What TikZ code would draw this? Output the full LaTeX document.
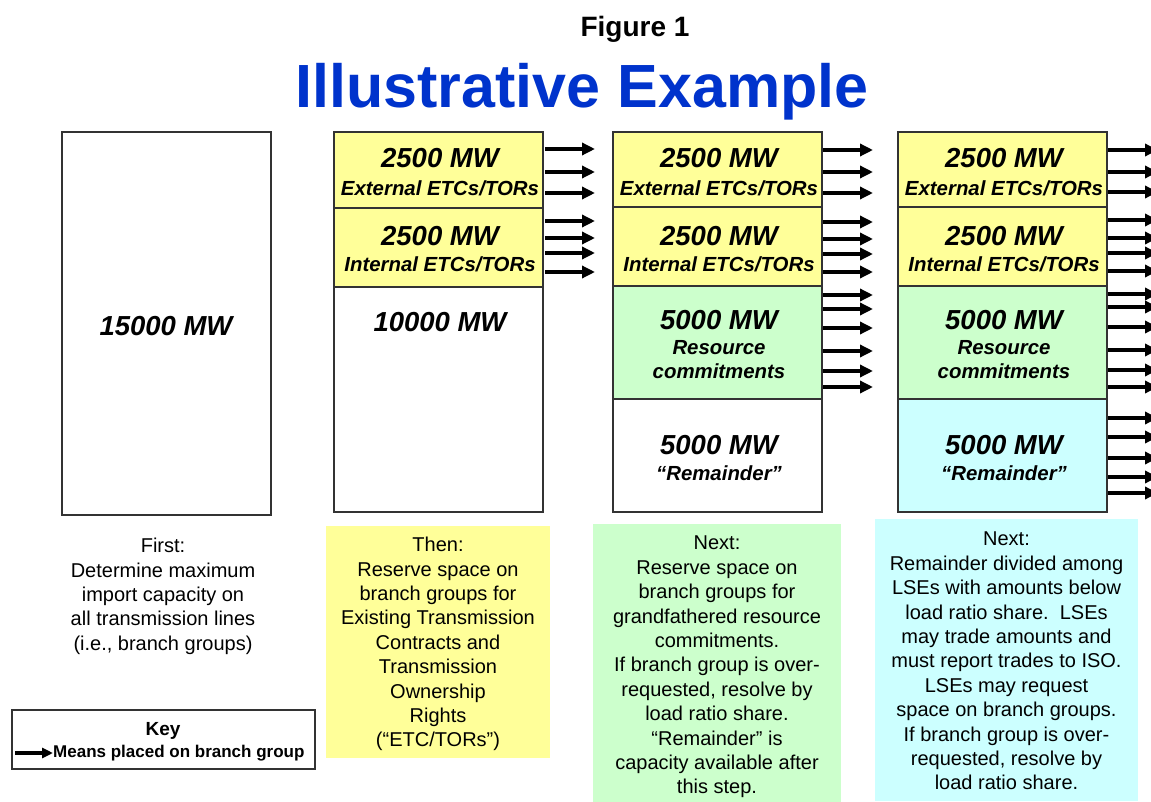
\documentclass[tikz,border=0pt]{standalone}
\usepackage{fontspec}
\setmainfont{Liberation Sans}
\usetikzlibrary{arrows.meta}
\definecolor{bandyellow}{HTML}{FFFF99}
\definecolor{bandgreen}{HTML}{CCFFCC}
\definecolor{bandcyan}{HTML}{CCFFFF}
\definecolor{titleblue}{HTML}{0033CC}
\definecolor{edgegray}{HTML}{333333}
\newcommand\mwfont{\fontsize{27.5}{30}\selectfont\bfseries\itshape}
\newcommand\bandsubfont{\fontsize{20.4}{24}\selectfont\bfseries\itshape}
\newcommand\notefont{\fontsize{20}{24.4}\selectfont}
\begin{document}
\begin{tikzpicture}[x=1pt,y=-1pt,
  band/.style={draw=edgegray, line width=1.2pt, inner sep=0pt, outer sep=0pt,
    anchor=north west, minimum width=209pt},
  mw/.style={font=\mwfont, inner sep=0pt},
  bandsub/.style={font=\bandsubfont, inner sep=0pt, align=center},
  note/.style={font=\notefont, inner sep=0pt, align=center, anchor=north},
  notebox/.style={inner sep=0pt, outer sep=0pt, anchor=north west},
  placed/.style={line width=3.6pt, -{Triangle[length=13pt,width=12pt]}}
]
\useasboundingbox (0,0) rectangle (1151,802);

% headings
\node[font=\fontsize{28}{30}\selectfont\bfseries, anchor=base, inner sep=0pt] (fig) at (635,37) {Figure 1};
\node[font=\fontsize{61}{64}\selectfont\bfseries, text=titleblue, anchor=base, inner sep=0pt] (title) at (582,108) {Illustrative Example};

% column 1: total import capacity
\node[band, minimum height=383pt] (c1) at (62,132) {};
\node[mw] (c1mw) at (166,326) {15000 MW};

% column 2: ETC/TOR reservations
\node[band, fill=bandyellow, minimum height=76pt] (c2ext) at (334,132) {};
\node[band, fill=bandyellow, minimum height=79pt] (c2int) at (334,208) {};
\node[band, minimum height=225pt] (c2rest) at (334,287) {};
\node[mw] (c2extmw) at (440,158) {2500 MW};
\node[bandsub] (c2extlb) at (440,188) {External ETCs/TORs};
\node[mw] (c2intmw) at (440,236) {2500 MW};
\node[bandsub] (c2intlb) at (440,264) {Internal ETCs/TORs};
\node[mw] (c2restmw) at (440,322) {10000 MW};

% column 3: resource commitments
\node[band, fill=bandyellow, minimum height=75pt] (c3ext) at (613,132) {};
\node[band, fill=bandyellow, minimum height=79pt] (c3int) at (613,207) {};
\node[band, fill=bandgreen, minimum height=113pt] (c3res) at (613,286) {};
\node[band, minimum height=113pt] (c3rem) at (613,399) {};
\node[mw] (c3extmw) at (719,158) {2500 MW};
\node[bandsub] (c3extlb) at (719,188) {External ETCs/TORs};
\node[mw] (c3intmw) at (719,236) {2500 MW};
\node[bandsub] (c3intlb) at (719,264) {Internal ETCs/TORs};
\node[mw] (c3resmw) at (719,320) {5000 MW};
\node[bandsub] (c3reslb) at (719,360) {Resource\\commitments};
\node[mw] (c3remmw) at (719,445) {5000 MW};
\node[bandsub] (c3remlb) at (719,473) {“Remainder”};

% column 4: remainder allocated
\node[band, fill=bandyellow, minimum height=75pt] (c4ext) at (898,132) {};
\node[band, fill=bandyellow, minimum height=79pt] (c4int) at (898,207) {};
\node[band, fill=bandgreen, minimum height=113pt] (c4res) at (898,286) {};
\node[band, fill=bandcyan, minimum height=113pt] (c4rem) at (898,399) {};
\node[mw] (c4extmw) at (1004,158) {2500 MW};
\node[bandsub] (c4extlb) at (1004,188) {External ETCs/TORs};
\node[mw] (c4intmw) at (1004,236) {2500 MW};
\node[bandsub] (c4intlb) at (1004,264) {Internal ETCs/TORs};
\node[mw] (c4resmw) at (1004,320) {5000 MW};
\node[bandsub] (c4reslb) at (1004,360) {Resource\\commitments};
\node[mw] (c4remmw) at (1004,445) {5000 MW};
\node[bandsub] (c4remlb) at (1004,473) {“Remainder”};

% capacity placed on branch groups
\foreach \yy in {149,172,193} \draw[placed] ([xshift=2pt]c2ext.east |- 0,\yy) -- ++(50,0);
\foreach \yy in {221,238,253,272} \draw[placed] ([xshift=2pt]c2int.east |- 0,\yy) -- ++(50,0);
\foreach \yy in {150,172,193} \draw[placed] ([xshift=1pt]c3ext.east |- 0,\yy) -- ++(50,0);
\foreach \yy in {222,239,254,272} \draw[placed] ([xshift=1pt]c3int.east |- 0,\yy) -- ++(50,0);
\foreach \yy in {295,309,328,351,371,387} \draw[placed] ([xshift=1pt]c3res.east |- 0,\yy) -- ++(50,0);
\foreach \yy in {150,172,192} \draw[placed] ([xshift=1pt]c4ext.east |- 0,\yy) -- ++(50,0);
\foreach \yy in {220,238,253,271} \draw[placed] ([xshift=1pt]c4int.east |- 0,\yy) -- ++(50,0);
\foreach \yy in {294,307,327,350,370,387} \draw[placed] ([xshift=1pt]c4res.east |- 0,\yy) -- ++(50,0);
\foreach \yy in {418,437,458,477,493} \draw[placed] ([xshift=1pt]c4rem.east |- 0,\yy) -- ++(50,0);

% step descriptions
\node[note] (n1) at (163,538) {First:\\Determine maximum\\import capacity on\\all transmission lines\\(i.e., branch groups)};

\node[notebox, fill=bandyellow, minimum width=224pt, minimum height=232pt] (b2) at (326,526) {};
\node[note] (n2) at (b2.north |- 0,537) {Then:\\Reserve space on\\branch groups for\\Existing Transmission\\Contracts and\\Transmission\\Ownership\\Rights\\(“ETC/TORs”)};

\node[notebox, fill=bandgreen, minimum width=248pt, minimum height=278pt] (b3) at (593,524) {};
\node[note] (n3) at (b3.north |- 0,536) {Next:\\Reserve space on\\branch groups for\\grandfathered resource\\commitments.\\If branch group is over-\\requested, resolve by\\load ratio share.\\“Remainder” is\\capacity available after\\this step.};

\node[notebox, fill=bandcyan, minimum width=263pt, minimum height=282pt] (b4) at (875,519) {};
\node[note] (n4) at (b4.north |- 0,532) {Next:\\Remainder divided among\\LSEs with amounts below\\load ratio share.\ \ LSEs\\may trade amounts and\\must report trades to ISO.\\LSEs may request\\space on branch groups.\\If branch group is over-\\requested, resolve by\\load ratio share.};

% key
\node[notebox, draw=edgegray, line width=1.2pt, minimum width=303pt, minimum height=59pt] (key) at (12,710) {};
\node[font=\fontsize{19}{22}\selectfont\bfseries, inner sep=0pt] (keyttl) at (163,731) {Key};
\node[font=\fontsize{17}{20}\selectfont\bfseries, inner sep=0pt, anchor=west] (keytxt) at (53,753) {Means placed on branch group};
\coordinate (keystart) at (15,753);
\draw[line width=3.2pt, -{Triangle[length=11pt,width=10pt]}] (keystart) -- (keytxt.west);
\end{tikzpicture}
\end{document}
